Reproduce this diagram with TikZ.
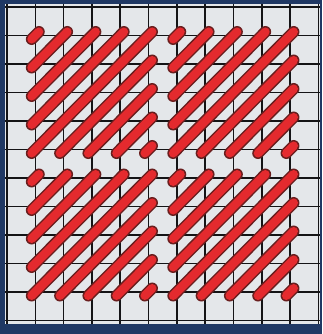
\documentclass[tikz,border=0pt]{standalone}
\definecolor{borderblue}{RGB}{31,56,100}
\definecolor{canvasgrey}{RGB}{228,231,234}
\definecolor{stitchred}{RGB}{228,42,46}
\definecolor{stitchedge}{RGB}{105,30,30}
\definecolor{gridblack}{RGB}{20,20,22}
\tikzset{
  gridline/.style={draw=gridblack, line width=1.6pt},
  stitchline/.style={draw=stitchred, line width=8.6pt, line cap=round,
    preaction={draw=stitchedge, line width=11.6pt, line cap=round}}
}
\begin{document}
\begin{tikzpicture}[x=1pt,y=-1pt]
\useasboundingbox (0,0) rectangle (322,334);
\fill[borderblue] (0,0) rectangle (322,334);
\fill[canvasgrey] (5,4) rectangle (320,324);
\begin{scope}[shift={(7pt,-7pt)}, x=28.3pt, y=-28.5pt]
  % grid
  \foreach \i in {0,...,11} {
    \draw[gridline] (\i,-0.105) -- (\i,11.12);
    \draw[gridline] (-0.07,\i) -- (11.06,\i);
  }
  % four Scotch-stitch blocks
  \foreach \bx in {1,6} {
    \foreach \by in {1,6} {
      \foreach \k in {0,...,4} {
        \draw[stitchline] ({\bx-0.13},{\by+\k+0.13}) -- ({\bx+\k+0.13},{\by-0.13});
      }
      \foreach \k in {1,...,4} {
        \draw[stitchline] ({\bx+\k-0.13},{\by+4+0.13}) -- ({\bx+4+0.13},{\by+\k-0.13});
      }
    }
  }
\end{scope}
\end{tikzpicture}
\end{document}
